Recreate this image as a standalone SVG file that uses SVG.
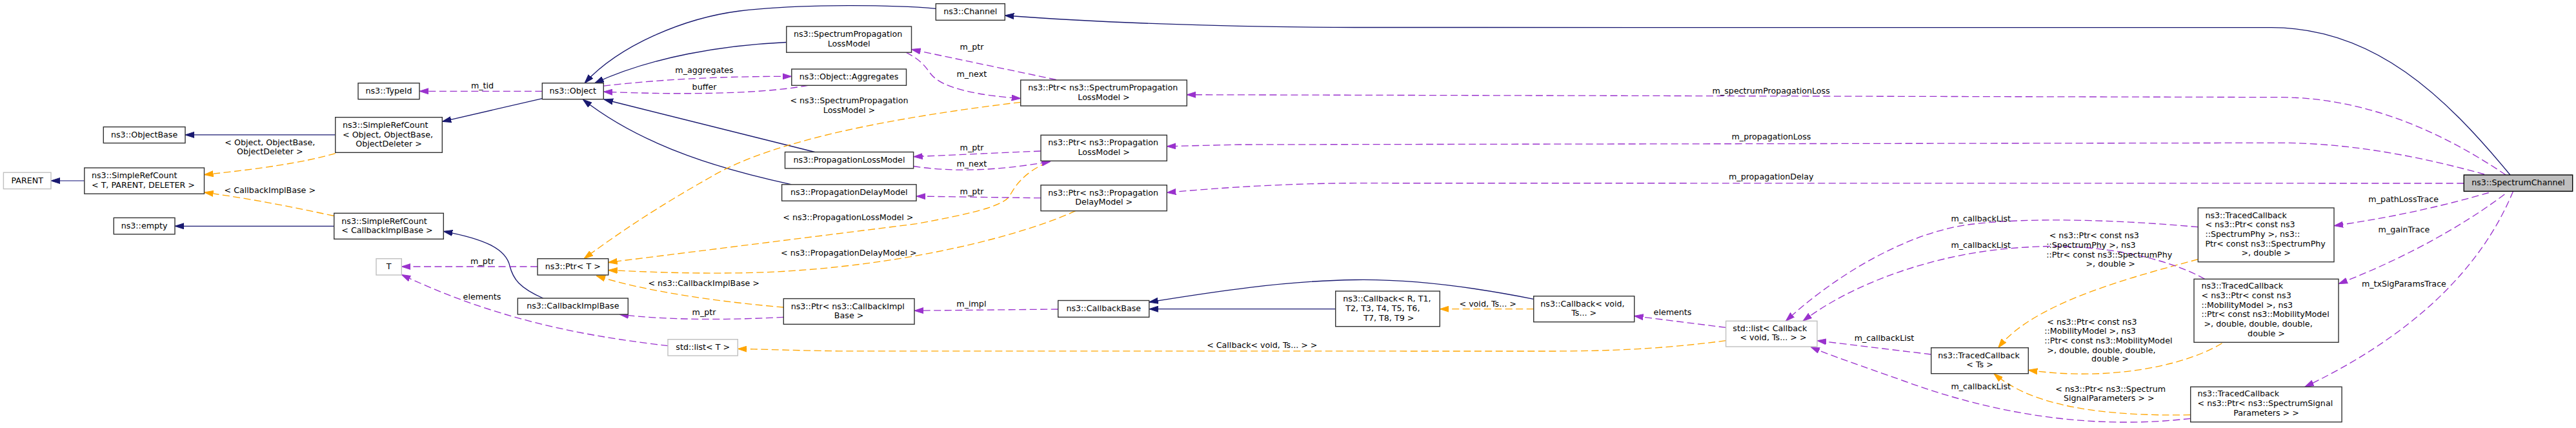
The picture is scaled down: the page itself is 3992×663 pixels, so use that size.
<svg xmlns="http://www.w3.org/2000/svg" width="3992" height="663" viewBox="0 0 3992 663">
<style>
text{font-family:"DejaVu Sans","Liberation Sans",sans-serif;font-size:12.67px;fill:#000}
.c{text-anchor:middle}
.nd rect{fill:#fff;stroke:#333;stroke-width:1.4}
.gr rect{fill:#fff;stroke:#bfbfbf;stroke-width:1.4}
.cur rect{fill:#bfbfbf;stroke:#000;stroke-width:1.4}
.inh{fill:none;stroke:#191970;stroke-width:1.33;marker-end:url(#ab)}
.use{fill:none;stroke:#9a32cd;stroke-width:1.33;stroke-dasharray:11,5.5;marker-end:url(#ap)}
.tpl{fill:none;stroke:#ffa500;stroke-width:1.33;stroke-dasharray:11,5.5;marker-end:url(#ao)}
</style>
<defs>
<marker id="ab" viewBox="0 0 14 10" refX="14" refY="5" markerWidth="14" markerHeight="10" markerUnits="userSpaceOnUse" orient="auto"><path d="M0,0.5 L14,5 L0,9.5 z" fill="#191970" stroke="#191970" stroke-width="1"/></marker>
<marker id="ap" viewBox="0 0 14 10" refX="14" refY="5" markerWidth="14" markerHeight="10" markerUnits="userSpaceOnUse" orient="auto"><path d="M0,0.5 L14,5 L0,9.5 z" fill="#9a32cd" stroke="#9a32cd" stroke-width="1"/></marker>
<marker id="ao" viewBox="0 0 14 10" refX="14" refY="5" markerWidth="14" markerHeight="10" markerUnits="userSpaceOnUse" orient="auto"><path d="M0,0.5 L14,5 L0,9.5 z" fill="#ffa500" stroke="#ffa500" stroke-width="1"/></marker>
</defs>
<rect width="3992" height="663" fill="#fff"/>
<g id="connectors">
<path class="inh" d="M519.7,208.9 L287,208.9"/>
<path class="inh" style="stroke:#5b5ba3" d="M130.8,280 L79,280"/>
<path class="inh" d="M517.7,350.3 L271,350.3"/>
<path class="inh" d="M840.3,152.7 L685.3,188.3"/>
<path class="inh" d="M841.7,462 C805,446 795,432 790,412 C784,385 750,370 687.3,358.3"/>
<path class="inh" d="M1450.3,13.3 C1390,8 1250,5 1146,17 C1060,28 960,70 906,128.7"/>
<path class="inh" d="M1218.75,65.5 C1120,70 1010,88 921.7,128.7"/>
<path class="inh" d="M1262.5,235.5 L936,154"/>
<path class="inh" d="M1226.8,285.8 C1130,265 1000,230 903.3,154"/>
<path class="inh" d="M3890,271 C3790,150 3680,42.7 3520,42.7 L2100,42.5 C1900,42 1700,35 1557.3,24"/>
<path class="inh" d="M2069.7,478.7 L1780.8,478.7"/>
<path class="inh" d="M2376.7,463.3 C2300,448 2200,432 2100,433.5 C1990,435 1880,452 1780.8,468"/>
<path class="tpl" d="M519.7,237.6 C470,252 400,262 316.5,270.6"/>
<path class="tpl" d="M517.7,334.5 C450,320 390,308 316.5,298"/>
<path class="tpl" d="M1581.7,158.3 C1400,180 1200,215 1100,275 C1020,320 960,360 905,400.7"/>
<path class="tpl" d="M1623,251.7 C1585,268 1572,290 1565,303 C1555,320 1500,332 1420,346.7 L942.7,406.5"/>
<path class="tpl" d="M1666.7,326.7 C1560,375 1350,420 1146,422.8 C1060,424 1000,421 942.7,418.5"/>
<path class="tpl" d="M1214.3,476 C1120,468 1000,452 924,427"/>
<path class="tpl" d="M2674.6,527.7 C2580,540 2500,544 2400,544 L1300,543.8 C1230,543 1190,541 1143.3,540.4"/>
<path class="tpl" d="M2376.7,478.7 L2231.3,478.7"/>
<path class="tpl" d="M3406.3,401.7 C3300,430 3150,470 3096.7,538.7"/>
<path class="tpl" d="M3443.4,531.7 C3380,570 3260,590 3143.3,573.3"/>
<path class="tpl" d="M3394.7,642.7 C3260,645 3150,630 3090,578.7"/>
<path class="use" d="M840.3,141.3 L650,141.3"/>
<path class="use" d="M833,413 L622.3,413"/>
<path class="use" d="M1035,535.7 C920,522 780,500 622.3,425.5"/>
<path class="use" d="M935.3,133.2 C1030,122 1130,118 1226.8,118.4"/>
<path class="use" d="M1252,132.3 C1180,146 1050,147 935.3,142.1"/>
<path class="use" d="M1636.7,123.5 L1412.5,76.5"/>
<path class="use" d="M1404,81.2 C1425,92 1432,100 1442,114 C1460,138 1520,148 1581.7,152.5"/>
<path class="use" d="M1613,234 C1540,237 1480,240 1415.6,242.7"/>
<path class="use" d="M1415.6,257.5 C1470,266 1540,266 1628.3,250"/>
<path class="use" d="M1613,306.7 L1420,304"/>
<path class="use" d="M1214.3,491.3 C1130,496 1030,496 960,487"/>
<path class="use" d="M1639.7,479 L1417,481.2"/>
<path class="use" d="M2674.6,507.4 L2532.6,489.5"/>
<path class="use" d="M2992.7,549 L2816,527.7"/>
<path class="use" d="M3406.3,351.7 C3300,342 3150,335 3050,348 C2950,362 2840,430 2767.4,497.3"/>
<path class="use" d="M3416.7,432.3 C3360,400 3250,375 3140,383 C3000,390 2870,440 2794,497.3"/>
<path class="use" d="M3394.7,648.3 C3250,665 3100,645 2950,590 C2880,565 2840,552 2806,537.5"/>
<path class="use" d="M3856.8,298.5 C3800,315 3720,335 3617,349.7"/>
<path class="use" d="M3881.3,301 C3830,340 3740,395 3624,439.7"/>
<path class="use" d="M3894.5,296.4 C3860,380 3780,500 3571.8,599.3"/>
<path class="use" d="M3883.3,271 C3800,215 3680,152 3536.7,150.7 L1839.3,146.7"/>
<path class="use" d="M3850,270 C3760,245 3650,222 3536.7,221.3 L1920,224 L1808.3,226.7"/>
<path class="use" d="M3818.3,284 L2100,283.7 C2000,284 1900,290 1808.3,298.3"/>
<g id="edge-labels">
<text class="c" x="418.3" y="224.5">&lt; Object, ObjectBase,</text>
<text class="c" x="418.3" y="239.3">ObjectDeleter &gt;</text>
<text class="c" x="418.3" y="298.6">&lt; CallbackImplBase &gt;</text>
<text class="c" x="747.5" y="136.5">m_tid</text>
<text class="c" x="747.5" y="408.5">m_ptr</text>
<text class="c" x="747" y="463.5">elements</text>
<text class="c" x="1091.5" y="113">m_aggregates</text>
<text class="c" x="1091.5" y="138.8">buffer</text>
<text class="c" x="1316" y="160">&lt; ns3::SpectrumPropagation</text>
<text class="c" x="1316" y="174.7">LossModel &gt;</text>
<text x="1213.3" y="341">&lt; ns3::PropagationLossModel &gt;</text>
<text x="1210" y="396">&lt; ns3::PropagationDelayModel &gt;</text>
<text class="c" x="1090.7" y="443">&lt; ns3::CallbackImplBase &gt;</text>
<text class="c" x="1091" y="488">m_ptr</text>
<text class="c" x="1506" y="77">m_ptr</text>
<text class="c" x="1505.8" y="119">m_next</text>
<text class="c" x="1506" y="232.6">m_ptr</text>
<text class="c" x="1505.8" y="257.6">m_next</text>
<text class="c" x="1506" y="301">m_ptr</text>
<text class="c" x="1505.4" y="475.3">m_impl</text>
<text class="c" x="1955.8" y="539.2">&lt; Callback&lt; void, Ts... &gt; &gt;</text>
<text class="c" x="2305.7" y="474.6">&lt; void, Ts... &gt;</text>
<text class="c" x="2592" y="487.6">elements</text>
<text x="2653.6" y="145">m_spectrumPropagationLoss</text>
<text x="2683.5" y="215.5">m_propagationLoss</text>
<text x="2679" y="278">m_propagationDelay</text>
<text class="c" x="3069.7" y="342.6">m_callbackList</text>
<text class="c" x="3069.7" y="383.6">m_callbackList</text>
<text class="c" x="2920" y="527.8">m_callbackList</text>
<text class="c" x="3069.7" y="602.6">m_callbackList</text>
<text x="3175.7" y="368.6">&lt; ns3::Ptr&lt; const ns3</text>
<text x="3171.3" y="383.6">::SpectrumPhy &gt;, ns3</text>
<text x="3171.3" y="399">::Ptr&lt; const ns3::SpectrumPhy</text>
<text class="c" x="3270.7" y="412.6">&gt;, double &gt;</text>
<text x="3172.3" y="503">&lt; ns3::Ptr&lt; const ns3</text>
<text x="3168.3" y="517">::MobilityModel &gt;, ns3</text>
<text x="3168.3" y="531.6">::Ptr&lt; const ns3::MobilityModel</text>
<text x="3172.3" y="546.6">&gt;, double, double, double,</text>
<text class="c" x="3270" y="560.3">double &gt;</text>
<text class="c" x="3270.7" y="607">&lt; ns3::Ptr&lt; ns3::Spectrum</text>
<text class="c" x="3268.3" y="621">SignalParameters &gt; &gt;</text>
<text class="c" x="3724.7" y="312.5">m_pathLossTrace</text>
<text class="c" x="3725.4" y="360">m_gainTrace</text>
<text class="c" x="3725.4" y="444">m_txSigParamsTrace</text>
</g>
</g>
<g id="node_parent" class="gr"><rect x="5.4" y="267.2" width="73.6" height="25.4"/><text class="c" x="42.2" y="283.5">PARENT</text></g>
<g id="node_simplerefcount_tpd" class="nd"><rect x="130.8" y="260" width="185.7" height="40.2"/><text x="142" y="276">ns3::SimpleRefCount</text><text x="142" y="290.6">&lt; T, PARENT, DELETER &gt;</text></g>
<g id="node_objectbase" class="nd"><rect x="160.3" y="196.6" width="126.7" height="25"/><text class="c" x="223.6" y="213">ns3::ObjectBase</text></g>
<g id="node_empty" class="nd"><rect x="176.3" y="337.4" width="94.7" height="25.4"/><text class="c" x="223.6" y="353.7">ns3::empty</text></g>
<g id="node_simplerefcount_object" class="nd"><rect x="519.7" y="181.7" width="165.6" height="54.6"/><text x="531" y="198">ns3::SimpleRefCount</text><text x="531" y="212.6">&lt; Object, ObjectBase,</text><text class="c" x="602.5" y="226.6">ObjectDeleter &gt;</text></g>
<g id="node_simplerefcount_cbib" class="nd"><rect x="517.7" y="330.3" width="169.6" height="40"/><text x="529.3" y="347">ns3::SimpleRefCount</text><text x="529.3" y="361.3">&lt; CallbackImplBase &gt;</text></g>
<g id="node_typeid" class="nd"><rect x="555" y="128.7" width="95" height="25"/><text class="c" x="602.5" y="145">ns3::TypeId</text></g>
<g id="node_t" class="gr"><rect x="583" y="400.7" width="39.3" height="25.3"/><text class="c" x="602.7" y="417">T</text></g>
<g id="node_object" class="nd"><rect x="840.3" y="128.7" width="95" height="25"/><text class="c" x="887.8" y="145">ns3::Object</text></g>
<g id="node_ptr_t" class="nd"><rect x="833" y="400.7" width="109.7" height="25.3"/><text class="c" x="887.8" y="417">ns3::Ptr&lt; T &gt;</text></g>
<g id="node_callbackimplbase" class="nd"><rect x="802.3" y="462" width="171" height="25"/><text class="c" x="887.8" y="478.3">ns3::CallbackImplBase</text></g>
<g id="node_list_t" class="gr"><rect x="1035" y="525.7" width="108.3" height="25.3"/><text class="c" x="1089.2" y="542">std::list&lt; T &gt;</text></g>
<g id="node_splm" class="nd"><rect x="1218.75" y="41" width="193.75" height="40.2"/><text x="1229.9" y="57.2">ns3::SpectrumPropagation</text><text class="c" x="1315.6" y="71.6">LossModel</text></g>
<g id="node_aggregates" class="nd"><rect x="1226.8" y="107" width="177.7" height="25.3"/><text class="c" x="1315.6" y="123.3">ns3::Object::Aggregates</text></g>
<g id="node_plm" class="nd"><rect x="1216.5" y="235.5" width="199.1" height="25.4"/><text class="c" x="1316" y="251.8">ns3::PropagationLossModel</text></g>
<g id="node_pdm" class="nd"><rect x="1211.6" y="285.8" width="208.4" height="25.4"/><text class="c" x="1315.8" y="302.1">ns3::PropagationDelayModel</text></g>
<g id="node_ptr_cbib" class="nd"><rect x="1214.3" y="462.6" width="202.7" height="39.7"/><text x="1225.7" y="478.7">ns3::Ptr&lt; ns3::CallbackImpl</text><text class="c" x="1315.6" y="493.1">Base &gt;</text></g>
<g id="node_channel" class="nd"><rect x="1450.3" y="5.7" width="107" height="25.6"/><text class="c" x="1503.8" y="22">ns3::Channel</text></g>
<g id="node_ptr_splm" class="nd"><rect x="1581.7" y="124" width="257.6" height="40"/><text x="1593.3" y="140">ns3::Ptr&lt; ns3::SpectrumPropagation</text><text class="c" x="1710.5" y="154.6">LossModel &gt;</text></g>
<g id="node_ptr_plm" class="nd"><rect x="1613" y="209.3" width="195.3" height="40"/><text x="1624.3" y="225">ns3::Ptr&lt; ns3::Propagation</text><text class="c" x="1710.7" y="239.6">LossModel &gt;</text></g>
<g id="node_ptr_pdm" class="nd"><rect x="1613" y="286.7" width="195.3" height="40"/><text x="1624.3" y="302.6">ns3::Ptr&lt; ns3::Propagation</text><text class="c" x="1710.7" y="317">DelayModel &gt;</text></g>
<g id="node_callbackbase" class="nd"><rect x="1639.7" y="465.5" width="141.1" height="25.8"/><text class="c" x="1710.3" y="481.8">ns3::CallbackBase</text></g>
<g id="node_callback_r" class="nd"><rect x="2069.7" y="451" width="161.6" height="54.7"/><text x="2081.3" y="467">ns3::Callback&lt; R, T1,</text><text x="2085.3" y="482">T2, T3, T4, T5, T6,</text><text class="c" x="2152.3" y="497">T7, T8, T9 &gt;</text></g>
<g id="node_callback_void" class="nd"><rect x="2376.7" y="458.7" width="156" height="40"/><text x="2387.3" y="474.6">ns3::Callback&lt; void,</text><text class="c" x="2454.7" y="488.8">Ts... &gt;</text></g>
<g id="node_list_callback" class="gr"><rect x="2674.6" y="497.3" width="141.4" height="39.7"/><text x="2685.3" y="512.5">std::list&lt; Callback</text><text class="c" x="2748" y="527.3">&lt; void, Ts... &gt; &gt;</text></g>
<g id="node_tracedcallback_ts" class="nd"><rect x="2992.7" y="538.7" width="150.6" height="40"/><text x="3003.3" y="555.3">ns3::TracedCallback</text><text class="c" x="3068" y="568.8">&lt; Ts &gt;</text></g>
<g id="node_tracedcallback_phy" class="nd"><rect x="3406.3" y="322" width="210.7" height="83.7"/><text x="3417.4" y="337.5">ns3::TracedCallback</text><text x="3417.4" y="352.3">&lt; ns3::Ptr&lt; const ns3</text><text x="3417.4" y="366.9">::SpectrumPhy &gt;, ns3::</text><text x="3417.4" y="381.6">Ptr&lt; const ns3::SpectrumPhy</text><text class="c" x="3511.7" y="396.3">&gt;, double &gt;</text></g>
<g id="node_tracedcallback_mobility" class="nd"><rect x="3400" y="432.3" width="224" height="98"/><text x="3411.5" y="447.4">ns3::TracedCallback</text><text x="3411.5" y="462.2">&lt; ns3::Ptr&lt; const ns3</text><text x="3411.5" y="476.6">::MobilityModel &gt;, ns3</text><text x="3411.5" y="491.4">::Ptr&lt; const ns3::MobilityModel</text><text x="3415.5" y="506.2">&gt;, double, double, double,</text><text class="c" x="3512" y="520.6">double &gt;</text></g>
<g id="node_tracedcallback_sig" class="nd"><rect x="3394.7" y="599.3" width="234.4" height="54.4"/><text x="3405.5" y="614.4">ns3::TracedCallback</text><text x="3405.5" y="629.3">&lt; ns3::Ptr&lt; ns3::SpectrumSignal</text><text class="c" x="3512" y="644">Parameters &gt; &gt;</text></g>
<g id="node_spectrumchannel" class="cur"><rect x="3818.3" y="271" width="168.4" height="25.3"/><text class="c" x="3902.5" y="287.3">ns3::SpectrumChannel</text></g>
</svg>
